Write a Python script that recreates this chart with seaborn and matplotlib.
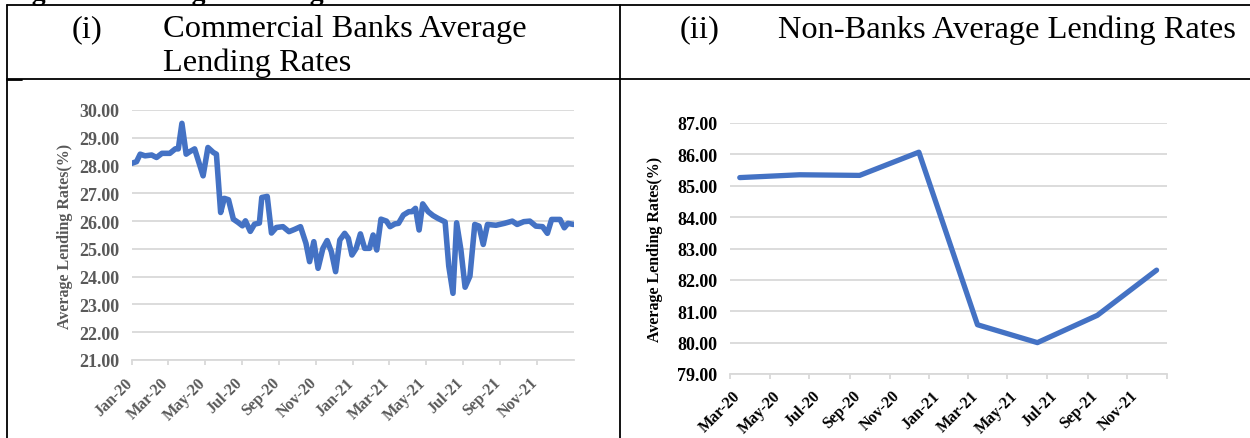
import matplotlib
matplotlib.use("Agg")
import matplotlib.pyplot as plt
from matplotlib.lines import Line2D
from matplotlib.transforms import ScaledTranslation
import seaborn as sns
import pandas as pd
import numpy as np

# ---------------- data ----------------
bank_dates = ["2020-01-01","2020-01-09","2020-01-15","2020-01-23","2020-02-03","2020-02-11","2020-02-20",
              "2020-03-04","2020-03-13","2020-03-18","2020-03-24","2020-03-31","2020-04-06","2020-04-14",
              "2020-04-28","2020-05-06","2020-05-15","2020-05-20","2020-05-27","2020-06-02","2020-06-09",
              "2020-06-17","2020-06-25","2020-07-02","2020-07-07","2020-07-15","2020-07-22","2020-07-30",
              "2020-08-03","2020-08-12","2020-08-19","2020-08-27","2020-09-07","2020-09-17","2020-09-26",
              "2020-10-06","2020-10-15","2020-10-21","2020-10-28","2020-11-04","2020-11-12","2020-11-19",
              "2020-11-26","2020-12-03","2020-12-10","2020-12-18","2020-12-24","2020-12-30","2021-01-06",
              "2021-01-13","2021-01-20","2021-01-28","2021-02-03","2021-02-09","2021-02-16","2021-02-25",
              "2021-03-03","2021-03-11","2021-03-17","2021-03-25","2021-04-03","2021-04-08","2021-04-14",
              "2021-04-20","2021-04-26","2021-05-05","2021-05-13","2021-05-21","2021-06-02","2021-06-08",
              "2021-06-15","2021-06-21","2021-06-28","2021-07-05","2021-07-13","2021-07-21","2021-07-28",
              "2021-08-04","2021-08-11","2021-08-25","2021-09-08","2021-09-21","2021-09-29","2021-10-10",
              "2021-10-20","2021-10-30","2021-11-10","2021-11-18","2021-11-25","2021-12-09","2021-12-16",
              "2021-12-22","2021-12-31"]
bank_rates = [28.08, 28.14, 28.41, 28.35, 28.38, 28.29, 28.44,
              28.44, 28.60, 28.60, 29.52, 28.41, 28.50, 28.60,
              27.63, 28.65, 28.47, 28.41, 26.31, 26.82, 26.77,
              26.07, 25.95, 25.83, 26.01, 25.63, 25.89, 25.93,
              26.85, 26.89, 25.57, 25.77, 25.80, 25.62, 25.70,
              25.80, 25.20, 24.54, 25.26, 24.30, 25.02, 25.30,
              24.90, 24.18, 25.32, 25.56, 25.38, 24.78, 25.02,
              25.54, 25.02, 25.02, 25.50, 24.96, 26.07, 26.00,
              25.80, 25.90, 25.92, 26.22, 26.34, 26.34, 26.46,
              25.68, 26.62, 26.34, 26.20, 26.10, 25.97, 24.38,
              23.40, 25.94, 24.98, 23.62, 24.02, 25.88, 25.82,
              25.16, 25.88, 25.85, 25.92, 26.00, 25.88, 25.98,
              26.00, 25.82, 25.80, 25.56, 26.06, 26.06, 25.76,
              25.92, 25.88]

nonbank_dates = ["2020-03-16", "2020-06-16", "2020-09-16", "2020-12-16",
                 "2021-03-16", "2021-06-16", "2021-09-16", "2021-12-16"]
nonbank_rates = [85.26, 85.35, 85.33, 86.07, 80.57, 80.00, 80.87, 82.31]

bank_ticks = ["2020-01-01", "2020-03-01", "2020-05-01", "2020-07-01", "2020-09-01", "2020-11-01",
              "2021-01-01", "2021-03-01", "2021-05-01", "2021-07-01", "2021-09-01", "2021-11-01"]
bank_tick_labels = ["Jan-20", "Mar-20", "May-20", "Jul-20", "Sep-20", "Nov-20",
                    "Jan-21", "Mar-21", "May-21", "Jul-21", "Sep-21", "Nov-21"]
nonbank_ticks = ["2020-03-01", "2020-05-01", "2020-07-01", "2020-09-01", "2020-11-01", "2021-01-01",
                 "2021-03-01", "2021-05-01", "2021-07-01", "2021-09-01", "2021-11-01", "2022-01-01"]
nonbank_tick_labels = ["Mar-20", "May-20", "Jul-20", "Sep-20", "Nov-20", "Jan-21",
                       "Mar-21", "May-21", "Jul-21", "Sep-21", "Nov-21", ""]

bank_yticks = [21, 22, 23, 24, 25, 26, 27, 28, 29, 30]
nonbank_yticks = [79, 80, 81, 82, 83, 84, 85, 86, 87]

panel_titles = [("(i)", ["Commercial Banks Average", "Lending Rates"]),
                ("(ii)", ["Non-Banks Average Lending Rates"])]
caption = "Figure 2: Average Lending Rates"
ylabel = "Average Lending Rates(%)"

# ---------------- style ----------------
sns.set_theme(style="white")
plt.rcParams["font.family"] = ["Liberation Serif", "DejaVu Serif"]

W, H = 1250, 439
fig = plt.figure(figsize=(W / 100, H / 100), dpi=100)
fig.patch.set_facecolor("white")


def fx(x):
    return x / W


def fy(y):
    return 1 - y / H


LINE_BLUE = "#4472C4"
GRID = "#d9d9d9"

bank_df = pd.DataFrame({"date": pd.to_datetime(bank_dates), "rate": bank_rates})
nb_df = pd.DataFrame({"date": pd.to_datetime(nonbank_dates), "rate": nonbank_rates})


def style_axis(ax, df, xlim, ylim, yticks, xticks, xlabels, color, label_dx_px, ylabel_x, lw, xpad):
    sns.lineplot(data=df, x="date", y="rate", ax=ax, color=LINE_BLUE, linewidth=lw,
                 solid_joinstyle="round", solid_capstyle="round")
    ax.set_xlim(pd.Timestamp(xlim[0]), pd.Timestamp(xlim[1]))
    ax.set_ylim(*ylim)
    ax.set_yticks(yticks)
    ax.set_yticklabels([f"{v:.2f}" for v in yticks], fontsize=13, fontweight="bold", color=color)
    ax.set_xticks(pd.to_datetime(xticks))
    ax.set_xticklabels(xlabels, fontsize=11.5, fontweight="bold", color=color,
                       rotation=45, ha="right", va="center", rotation_mode="anchor")
    for s in ["top", "right", "left"]:
        ax.spines[s].set_visible(False)
    ax.spines["bottom"].set_color(GRID)
    ax.spines["bottom"].set_linewidth(1.3)
    ax.yaxis.grid(True, color=GRID, linewidth=1.3)
    ax.xaxis.grid(False)
    ax.set_axisbelow(True)
    ax.tick_params(axis="y", length=0, pad=9)
    ax.tick_params(axis="x", direction="out", length=3.6, width=1.3, color=GRID, pad=xpad, bottom=True)
    ax.set_xlabel("")
    ax.set_ylabel(ylabel, fontsize=11.5, fontweight="bold", color=color)
    ax.yaxis.set_label_coords(ylabel_x, 0.5)
    off = ScaledTranslation(label_dx_px / 100, 0, fig.dpi_scale_trans)
    for lab in ax.get_xticklabels():
        lab.set_transform(lab.get_transform() + off)
    ax.set_facecolor("white")


# left panel
ax1 = fig.add_axes([fx(131.7), fy(361), fx(574) - fx(131.7), fy(111) - fy(361)])
style_axis(ax1, bank_df, ("2020-01-01", "2022-01-01"), (21, 30), bank_yticks,
           bank_ticks, bank_tick_labels, "#595959", -2, (73 - 131.7) / 442.3, 4.0, 10.8)

# right panel
ax2 = fig.add_axes([fx(730), fy(375), fx(1167) - fx(730), fy(124) - fy(375)])
style_axis(ax2, nb_df, ("2020-03-01", "2022-01-01"), (79, 87), nonbank_yticks,
           nonbank_ticks, nonbank_tick_labels, "black", 8, (663 - 730) / 437, 3.8, 10.0)

# ---------------- table frame ----------------
lw = 1.3
frame = [((7, 1250), (6, 6)), ((7, 1250), (80, 80)), ((7, 7), (6, 439)), ((620, 620), (6, 439)),
         ((7, 22), (81, 81))]
for xs, ys in frame:
    fig.add_artist(Line2D([fx(xs[0]), fx(xs[1])], [fy(ys[0]), fy(ys[1])],
                          color="black", linewidth=lw, transform=fig.transFigure))

# caption, clipped by the top edge as in the source page
fig.text(fx(7), fy(-0.5), caption, fontsize=20, fontweight="bold", color="black",
         ha="left", va="baseline")

# headers
hs = 23.4
fig.text(fx(72), fy(30), panel_titles[0][0], fontsize=hs, ha="left", va="center", color="black")
fig.text(fx(163), fy(30), panel_titles[0][1][0], fontsize=hs, ha="left", va="center", color="black")
fig.text(fx(163), fy(63), panel_titles[0][1][1], fontsize=hs, ha="left", va="center", color="black")
fig.text(fx(680), fy(30), panel_titles[1][0], fontsize=hs, ha="left", va="center", color="black")
fig.text(fx(778), fy(30), panel_titles[1][1][0], fontsize=hs, ha="left", va="center", color="black")

fig.savefig("out.png", dpi=100, facecolor="white")
